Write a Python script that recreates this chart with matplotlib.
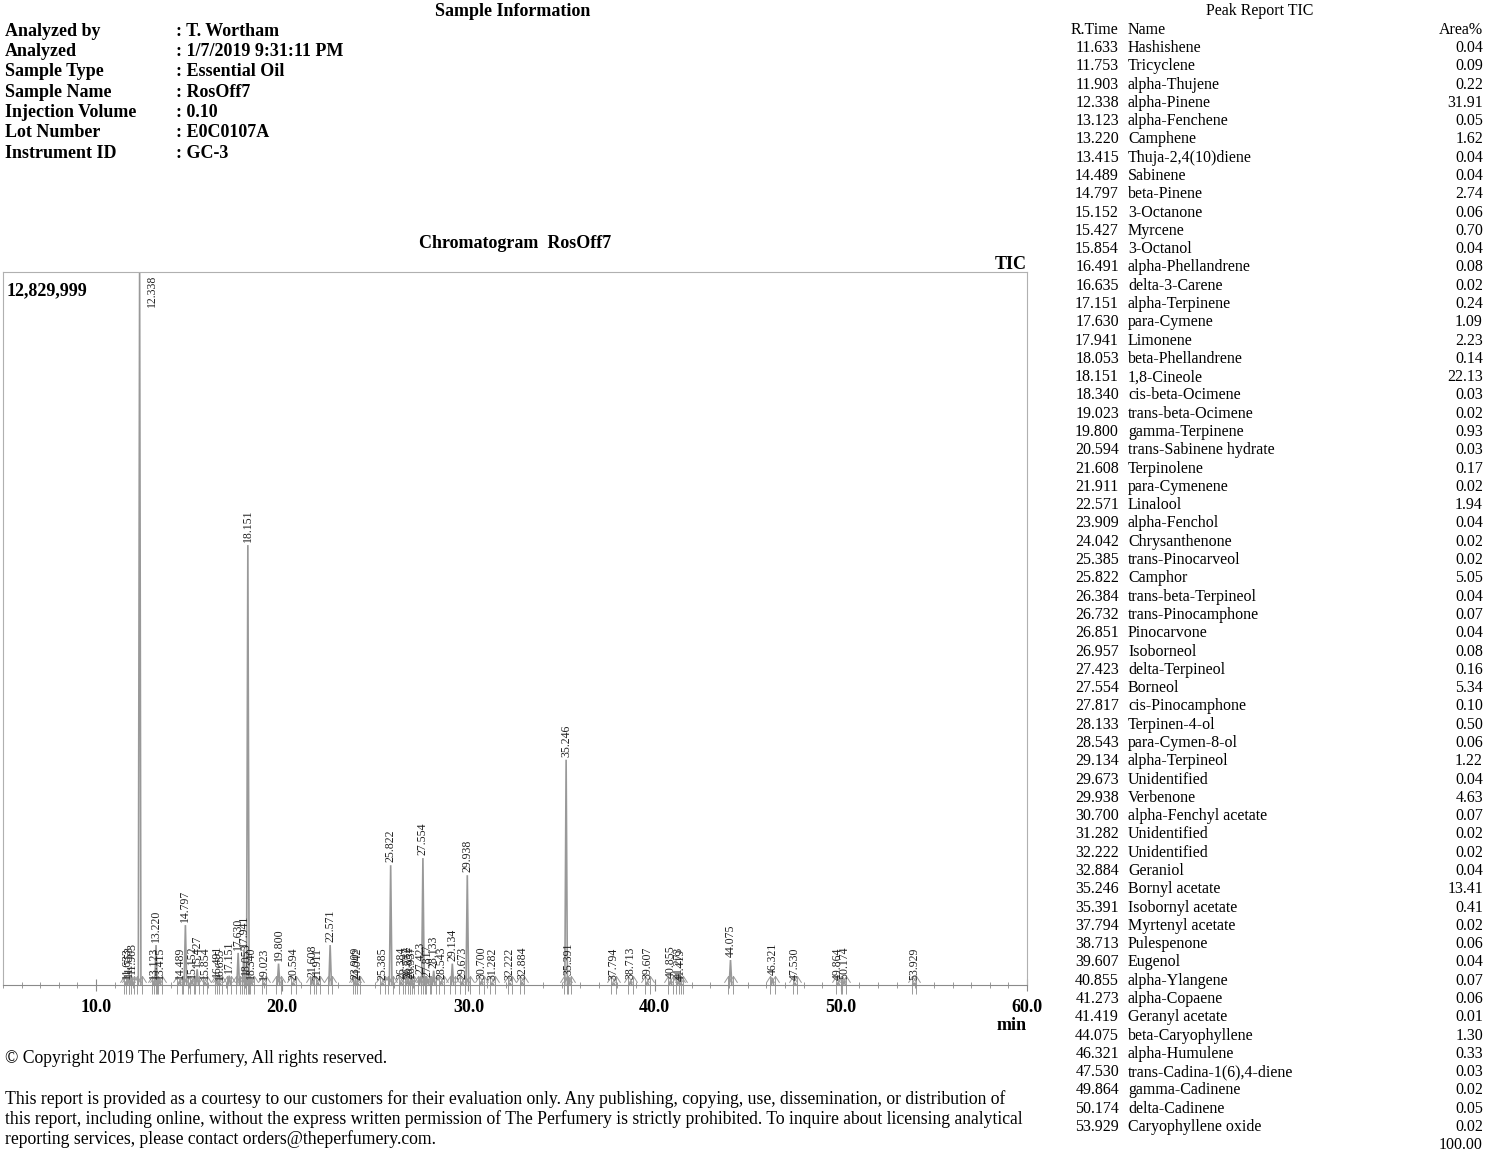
import matplotlib
matplotlib.use("Agg")
import matplotlib.pyplot as plt
from matplotlib.path import Path
from matplotlib.ticker import MultipleLocator, FormatStrFormatter

plt.rcParams['font.family'] = ['Liberation Serif', 'DejaVu Serif']

# sample information block
info_labels = ["Analyzed by", "Analyzed", "Sample Type", "Sample Name",
               "Injection Volume", "Lot Number", "Instrument ID"]
info_values = ["T. Wortham", "1/7/2019 9:31:11 PM", "Essential Oil", "RosOff7",
               "0.10", "E0C0107A", "GC-3"]

# peak report (retention time, name, area %)
rtimes = [11.633, 11.753, 11.903, 12.338, 13.123, 13.220, 13.415, 14.489, 14.797, 15.152,
          15.427, 15.854, 16.491, 16.635, 17.151, 17.630, 17.941, 18.053, 18.151, 18.340,
          19.023, 19.800, 20.594, 21.608, 21.911, 22.571, 23.909, 24.042, 25.385, 25.822,
          26.384, 26.732, 26.851, 26.957, 27.423, 27.554, 27.817, 28.133, 28.543, 29.134,
          29.673, 29.938, 30.700, 31.282, 32.222, 32.884, 35.246, 35.391, 37.794, 38.713,
          39.607, 40.855, 41.273, 41.419, 44.075, 46.321, 47.530, 49.864, 50.174, 53.929]
names = ["Hashishene", "Tricyclene", "alpha-Thujene", "alpha-Pinene", "alpha-Fenchene",
         "Camphene", "Thuja-2,4(10)diene", "Sabinene", "beta-Pinene", "3-Octanone",
         "Myrcene", "3-Octanol", "alpha-Phellandrene", "delta-3-Carene", "alpha-Terpinene",
         "para-Cymene", "Limonene", "beta-Phellandrene", "1,8-Cineole", "cis-beta-Ocimene",
         "trans-beta-Ocimene", "gamma-Terpinene", "trans-Sabinene hydrate", "Terpinolene",
         "para-Cymenene", "Linalool", "alpha-Fenchol", "Chrysanthenone", "trans-Pinocarveol",
         "Camphor", "trans-beta-Terpineol", "trans-Pinocamphone", "Pinocarvone", "Isoborneol",
         "delta-Terpineol", "Borneol", "cis-Pinocamphone", "Terpinen-4-ol", "para-Cymen-8-ol",
         "alpha-Terpineol", "Unidentified", "Verbenone", "alpha-Fenchyl acetate",
         "Unidentified", "Unidentified", "Geraniol", "Bornyl acetate", "Isobornyl acetate",
         "Myrtenyl acetate", "Pulespenone", "Eugenol", "alpha-Ylangene", "alpha-Copaene",
         "Geranyl acetate", "beta-Caryophyllene", "alpha-Humulene", "trans-Cadina-1(6),4-diene",
         "gamma-Cadinene", "delta-Cadinene", "Caryophyllene oxide"]
areas = ["0.04", "0.09", "0.22", "31.91", "0.05", "1.62", "0.04", "0.04", "2.74", "0.06",
         "0.70", "0.04", "0.08", "0.02", "0.24", "1.09", "2.23", "0.14", "22.13", "0.03",
         "0.02", "0.93", "0.03", "0.17", "0.02", "1.94", "0.04", "0.02", "0.02", "5.05",
         "0.04", "0.07", "0.04", "0.08", "0.16", "5.34", "0.10", "0.50", "0.06", "1.22",
         "0.04", "4.63", "0.07", "0.02", "0.02", "0.04", "13.41", "0.41", "0.02", "0.06",
         "0.04", "0.07", "0.06", "0.01", "1.30", "0.33", "0.03", "0.02", "0.05", "0.02"]

# peak heights, as fraction of full scale (12,829,999)
heights = [0.005, 0.008, 0.012, 1.000, 0.005, 0.056, 0.005, 0.005, 0.084, 0.006,
           0.022, 0.004, 0.007, 0.003, 0.013, 0.045, 0.050, 0.010, 0.617, 0.004,
           0.003, 0.030, 0.003, 0.008, 0.003, 0.056, 0.004, 0.003, 0.003, 0.168,
           0.004, 0.006, 0.004, 0.006, 0.012, 0.178, 0.008, 0.020, 0.005, 0.030,
           0.004, 0.154, 0.005, 0.003, 0.003, 0.004, 0.316, 0.010, 0.003, 0.005,
           0.004, 0.006, 0.005, 0.002, 0.035, 0.010, 0.003, 0.003, 0.005, 0.003]

W, H = 1500, 1169
fig = plt.figure(figsize=(15, 11.69), dpi=100)


def ftext(x, y, s, **kw):
    # place text using pixel coords of the page (origin top-left)
    fig.text(x / W, 1 - y / H, s, **kw)


# ---- header: sample information
ftext(513, 11, "Sample Information", ha='center', va='center', fontsize=13, fontweight='bold')
for i in range(len(info_labels)):
    y = 31 + i * 20.35
    ftext(5, y, info_labels[i], va='center', fontsize=13, fontweight='bold')
    ftext(176, y, ": " + info_values[i], va='center', fontsize=13, fontweight='bold')

# ---- chromatogram
ftext(515, 244, "Chromatogram  RosOff7", ha='center', va='center', fontsize=13, fontweight='bold')
ftext(1027, 264, "TIC", ha='right', va='center', fontsize=13, fontweight='bold')

ax = fig.add_axes([3 / W, 1 - 985 / H, 1024 / W, 713 / H])
ax.set_xlim(5, 60)
ax.set_ylim(0, 1)

hw = 0.07
for rt, h in zip(rtimes, heights):
    ax.plot([rt - hw, rt, rt + hw], [0, h, 0], color='#999999', lw=1.2, solid_joinstyle='miter')

# integration markers at baseline
arrow = Path([(0, -1), (0, 1), (-0.45, 0.3), (0, 1), (0.45, 0.3)],
             [Path.MOVETO, Path.LINETO, Path.MOVETO, Path.LINETO, Path.LINETO])
marks = []
for rt in rtimes:
    marks += [rt - 0.12, rt + 0.12]
ax.plot(marks, [0] * len(marks), ls='none', marker=arrow, markersize=13,
        markerfacecolor='none', markeredgecolor='#9a9a9a', markeredgewidth=0.7, clip_on=False)

# peak labels
for rt, h in zip(rtimes, heights):
    if h >= 1.0:
        ax.annotate(f"{rt:.3f}", (rt, 1.0), xytext=(9, -2), textcoords='offset points',
                    rotation=90, ha='center', va='top', fontsize=8.5, color='#222')
    else:
        ax.annotate(f"{rt:.3f}", (rt, h), xytext=(0, 2), textcoords='offset points',
                    rotation=90, ha='center', va='bottom', fontsize=8.5, color='#222')

ax.text(0.003, 0.985, "12,829,999", transform=ax.transAxes, ha='left', va='top',
        fontsize=13, fontweight='bold')

for s in ['left', 'top', 'right']:
    ax.spines[s].set_color('#b0b0b0')
ax.spines['bottom'].set_color('#8a8a8a')
ax.set_yticks([])
ax.xaxis.set_major_locator(MultipleLocator(10))
ax.xaxis.set_minor_locator(MultipleLocator(1))
ax.xaxis.set_major_formatter(FormatStrFormatter('%.1f'))
ax.tick_params(axis='x', which='major', direction='inout', length=8, color='#8a8a8a',
               labelsize=13, pad=6)
ax.tick_params(axis='x', which='minor', direction='inout', length=5, color='#8a8a8a')
for lbl in ax.get_xticklabels():
    lbl.set_fontweight('bold')
ftext(1027, 1026, "min", ha='right', va='center', fontsize=13, fontweight='bold')

# ---- peak report table
ftext(1260, 11, "Peak Report TIC", ha='center', va='center', fontsize=11.5)
ftext(1071, 30, "R.Time", ha='left', va='center', fontsize=11.5)
ftext(1128, 30, "Name", ha='left', va='center', fontsize=11.5)
ftext(1483, 30, "Area%", ha='right', va='center', fontsize=11.5)
step = (1126.5 - 47.5) / (len(rtimes) - 1)
for i in range(len(rtimes)):
    y = 48 + i * step
    ftext(1119, y, f"{rtimes[i]:.3f}", ha='right', va='center', fontsize=11.5)
    ftext(1128, y, names[i], ha='left', va='center', fontsize=11.5)
    ftext(1483, y, areas[i], ha='right', va='center', fontsize=11.5)
ftext(1483, 1145, "100.00", ha='right', va='center', fontsize=11.5)

# ---- footer
ftext(5, 1058, "\u00a9 Copyright 2019 The Perfumery, All rights reserved.", va='center', fontsize=12.7)
footer = ["This report is provided as a courtesy to our customers for their evaluation only. "
          "Any publishing, copying, use, dissemination, or distribution of",
          "this report, including online, without the express written permission of The Perfumery "
          "is strictly prohibited. To inquire about licensing analytical",
          "reporting services, please contact orders@theperfumery.com."]
for i, line in enumerate(footer):
    ftext(5, 1099 + i * 20.2, line, va='center', fontsize=12.7)

fig.savefig("out.png", dpi=100)
